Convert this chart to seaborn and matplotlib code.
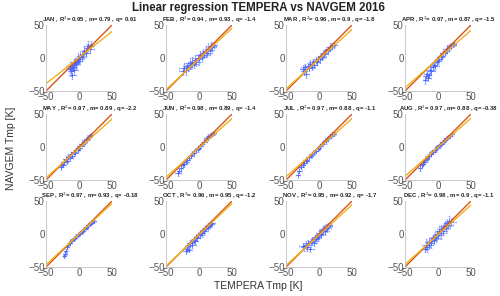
import matplotlib
matplotlib.use("Agg")
import matplotlib.pyplot as plt
import seaborn as sns
import pandas as pd
import numpy as np

# Monthly regression stats
months = ["JAN", "FEB", "MAR", "APR", "MAY", "JUN", "JUL", "AUG", "SEP", "OCT", "NOV", "DEC"]
r2 = [0.95, 0.94, 0.96, 0.97, 0.97, 0.98, 0.97, 0.97, 0.97, 0.96, 0.95, 0.98]
slope = [0.79, 0.93, 0.9, 0.87, 0.89, 0.89, 0.88, 0.88, 0.93, 0.95, 0.92, 0.9]
icpt = [0.61, -1.4, -1.8, -1.5, -2.2, -1.4, -1.1, -0.38, -0.18, -1.2, -1.7, -1.1]

# TEMPERA (x) vs NAVGEM (y) points with error bars, per month
x_jan = [-14, -13, -12, -11, -10, -9, -8, -7, -6, -5, -4, -3, -2, -1, 0, 2, 4, 6, 8, 10, 12, 14, 16, 18]
y_jan = [-16, -12, -20, -15, -25, -14, -10, -18, -8, -6, -9, -3, -5, 0, -2, 3, 1, 6, 10, 8, 15, 18, 14, 20]
ex_jan = [5, 6, 4, 7, 5, 6, 4, 5, 6, 7, 5, 4, 6, 5, 7, 4, 6, 5, 4, 6, 5, 7, 6, 5]
ey_jan = [7, 6, 8, 5, 7, 6, 8, 7, 6, 5, 7, 6, 5, 8, 6, 7, 5, 6, 7, 5, 6, 8, 7, 6]

x_feb = [-25, -22, -20, -18, -16, -14, -12, -10, -8, -6, -4, -2, 0, 2, 4, 6, 8, 10, 12, 14, 16, 18, 20, 22]
y_feb = [-20, -15, -18, -12, -14, -8, -11, -6, -9, -3, -6, 0, -2, 4, 1, 7, 5, 10, 8, 14, 12, 18, 16, 20]
ex_feb = [6, 8, 5, 7, 6, 8, 5, 6, 7, 5, 6, 8, 5, 7, 6, 5, 8, 6, 7, 5, 6, 7, 5, 6]
ey_feb = [5, 6, 7, 5, 6, 8, 6, 7, 6, 7, 6, 5, 8, 6, 7, 6, 5, 7, 6, 8, 6, 7, 6, 5]

x_mar = [-25, -23, -21, -19, -17, -15, -13, -11, -9, -7, -5, -3, -1, 1, 3, 5, 7, 9, 11, 13, 15, 17, 20, 23]
y_mar = [-16, -20, -14, -24, -12, -15, -9, -13, -6, -10, -4, -6, -1, -2, 3, 2, 6, 8, 10, 12, 14, 17, 18, 20]
ex_mar = [4, 5, 6, 4, 5, 6, 4, 5, 6, 4, 5, 4, 6, 5, 4, 5, 6, 4, 5, 4, 5, 6, 4, 5]
ey_mar = [5, 6, 5, 6, 4, 5, 6, 5, 4, 5, 6, 5, 4, 5, 4, 5, 6, 5, 4, 5, 4, 5, 4, 5]

x_apr = [-20, -18, -16, -14, -12, -10, -8, -6, -4, -2, 0, 2, 4, 6, 8, 10, 12, 14, 16, 18, 20, 22, 24, -15]
y_apr = [-34, -28, -24, -26, -18, -20, -14, -10, -12, -6, -4, -1, 2, 3, 7, 8, 11, 14, 15, 18, 19, 20, 21, -30]
ex_apr = [3, 4, 5, 4, 6, 5, 4, 5, 6, 4, 5, 4, 5, 4, 5, 4, 5, 6, 4, 5, 4, 5, 4, 4]
ey_apr = [5, 6, 5, 4, 5, 6, 5, 4, 5, 4, 5, 4, 5, 4, 4, 3, 4, 5, 4, 3, 4, 3, 3, 5]

x_may = [-28, -26, -24, -22, -20, -18, -16, -14, -12, -10, -8, -6, -4, -2, 0, 2, 4, 6, 8, 10, 12, 14, 16, 18]
y_may = [-30, -26, -28, -22, -18, -21, -15, -17, -11, -13, -8, -9, -5, -4, -1, 1, 4, 5, 8, 10, 12, 14, 16, 18]
ex_may = [4, 3, 4, 5, 4, 3, 4, 5, 4, 3, 4, 5, 4, 3, 4, 5, 4, 3, 4, 5, 4, 3, 4, 3]
ey_may = [5, 4, 3, 4, 5, 4, 3, 4, 3, 4, 3, 4, 3, 4, 3, 4, 3, 4, 3, 4, 3, 4, 3, 3]

x_jun = [-32, -30, -28, -25, -22, -20, -18, -15, -12, -10, -8, -5, -2, 0, 2, 5, 8, 10, 12, 14, 16, 18, 20, 23]
y_jun = [-40, -36, -32, -28, -26, -22, -20, -16, -14, -10, -9, -5, -3, -1, 2, 5, 8, 10, 13, 15, 17, 18, 20, 21]
ex_jun = [4, 3, 4, 3, 4, 5, 4, 3, 4, 3, 4, 3, 4, 3, 4, 3, 4, 3, 4, 3, 4, 3, 4, 3]
ey_jun = [4, 3, 4, 3, 4, 3, 4, 3, 3, 4, 3, 3, 4, 3, 3, 3, 4, 3, 3, 4, 3, 3, 3, 3]

x_jul = [-32, -30, -28, -25, -22, -20, -18, -15, -12, -10, -8, -5, -2, 0, 2, 5, 8, 10, 12, 14, 16, 18, 20, 23]
y_jul = [-42, -36, -30, -27, -24, -20, -21, -15, -14, -10, -8, -6, -3, -2, 1, 4, 8, 9, 12, 14, 16, 17, 19, 20]
ex_jul = [3, 4, 5, 4, 3, 4, 3, 4, 3, 4, 3, 4, 3, 3, 4, 3, 3, 4, 3, 4, 3, 3, 4, 3]
ey_jul = [5, 4, 3, 4, 3, 4, 3, 4, 3, 3, 4, 3, 3, 3, 3, 3, 3, 4, 3, 3, 3, 3, 3, 3]

x_aug = [-27, -25, -23, -21, -19, -17, -15, -13, -11, -9, -7, -5, -3, -1, 1, 3, 5, 7, 9, 11, 13, 15, 18, 21]
y_aug = [-32, -28, -25, -22, -20, -18, -14, -13, -10, -8, -7, -4, -3, 0, 1, 3, 5, 7, 9, 11, 13, 15, 17, 19]
ex_aug = [3, 3, 4, 3, 4, 3, 4, 3, 3, 4, 3, 4, 3, 3, 4, 3, 3, 4, 3, 3, 4, 3, 3, 3]
ey_aug = [4, 3, 4, 3, 3, 4, 3, 3, 4, 3, 3, 3, 4, 3, 3, 4, 3, 3, 4, 3, 3, 3, 3, 3]

x_sep = [-22, -21, -20, -18, -16, -14, -12, -10, -8, -6, -4, -2, 0, 2, 4, 6, 8, 10, 12, 14, 16, 18, 20, 22]
y_sep = [-34, -30, -26, -20, -16, -13, -11, -9, -7, -6, -3, -2, 0, 2, 3, 5, 7, 9, 11, 13, 15, 16, 18, 19]
ex_sep = [2, 3, 2, 3, 2, 3, 2, 3, 2, 3, 2, 3, 2, 3, 2, 3, 2, 3, 2, 3, 2, 3, 2, 3]
ey_sep = [3, 2, 3, 2, 3, 2, 3, 2, 3, 2, 3, 2, 3, 2, 3, 2, 3, 2, 3, 2, 3, 2, 3, 2]

x_oct = [-20, -18, -16, -15, -13, -11, -10, -8, -6, -4, -3, -1, 1, 3, 4, 6, 8, 9, 11, 13, 14, 16, 18, 20]
y_oct = [-26, -22, -18, -24, -14, -12, -16, -9, -10, -5, -6, -2, -1, 2, 1, 5, 4, 8, 9, 11, 12, 14, 15, 16]
ex_oct = [5, 4, 5, 4, 5, 4, 5, 4, 5, 4, 5, 4, 5, 4, 5, 4, 5, 4, 5, 4, 5, 4, 5, 4]
ey_oct = [5, 6, 5, 4, 5, 4, 5, 4, 5, 4, 5, 4, 5, 4, 5, 4, 5, 4, 5, 4, 5, 4, 4, 3]

x_nov = [-25, -22, -20, -18, -16, -14, -12, -10, -8, -6, -5, -3, -2, 0, 1, 3, 5, 6, 8, 9, 11, 12, 14, 16]
y_nov = [-18, -20, -16, -19, -14, -22, -12, -10, -13, -8, -6, -4, -5, -1, 2, 0, 4, 6, 8, 5, 10, 9, 12, 14]
ex_nov = [5, 6, 5, 6, 5, 6, 5, 6, 5, 6, 5, 6, 5, 6, 5, 6, 5, 6, 5, 6, 5, 6, 5, 4]
ey_nov = [5, 6, 5, 6, 5, 6, 5, 6, 5, 6, 5, 6, 5, 6, 5, 6, 5, 6, 5, 6, 5, 6, 5, 4]

x_dec = [-20, -18, -16, -14, -13, -11, -10, -8, -6, -5, -3, -1, 0, 2, 4, 5, 7, 9, 10, 12, 14, 15, 17, 19]
y_dec = [-22, -16, -20, -12, -17, -10, -14, -6, -9, -4, -6, 0, -2, 4, 1, 7, 5, 10, 12, 9, 16, 14, 20, 18]
ex_dec = [5, 6, 4, 5, 6, 5, 4, 6, 5, 4, 6, 5, 8, 6, 5, 7, 6, 5, 8, 6, 5, 7, 6, 8]
ey_dec = [6, 8, 7, 6, 5, 6, 7, 5, 6, 7, 6, 5, 6, 7, 8, 6, 7, 6, 5, 8, 7, 6, 8, 6]

xs = [x_jan, x_feb, x_mar, x_apr, x_may, x_jun, x_jul, x_aug, x_sep, x_oct, x_nov, x_dec]
ys = [y_jan, y_feb, y_mar, y_apr, y_may, y_jun, y_jul, y_aug, y_sep, y_oct, y_nov, y_dec]
exs = [ex_jan, ex_feb, ex_mar, ex_apr, ex_may, ex_jun, ex_jul, ex_aug, ex_sep, ex_oct, ex_nov, ex_dec]
eys = [ey_jan, ey_feb, ey_mar, ey_apr, ey_may, ey_jun, ey_jul, ey_aug, ey_sep, ey_oct, ey_nov, ey_dec]

sns.set_style("white")
plt.rcParams["font.family"] = ["Liberation Sans", "DejaVu Sans"]

fig = plt.figure(figsize=(5, 2.96), dpi=100)

col_left = [46, 166, 286, 405]
row_top = [25, 114, 201]
w, h = 66, 66
lim = np.array([-50, 50])

for i, mon in enumerate(months):
    r, c = divmod(i, 4)
    ax = fig.add_axes([col_left[c] / 500, 1 - (row_top[r] + h) / 296, w / 500, h / 296])
    ax.errorbar(xs[i], ys[i], xerr=exs[i], yerr=eys[i], fmt="none",
                ecolor="#4a66ff", alpha=0.5, elinewidth=0.7, capsize=0.8, capthick=0.6)
    df = pd.DataFrame({"x": xs[i], "y": ys[i]})
    sns.scatterplot(data=df, x="x", y="y", ax=ax, marker="+", color="#2040ff",
                    s=10, linewidth=0.7, alpha=0.7)
    sns.lineplot(x=lim, y=lim, ax=ax, color="#D95319", linewidth=1.0)
    sns.lineplot(x=lim, y=slope[i] * lim + icpt[i], ax=ax, color="#EDB120", linewidth=1.0)
    ax.set_xlim(-50, 50)
    ax.set_ylim(-50, 50)
    ax.set_xticks([-50, 0, 50])
    ax.set_yticks([-50, 0, 50])
    ax.set_xlabel("")
    ax.set_ylabel("")
    ax.tick_params(labelsize=7, colors="#555555", length=1.5, direction="in", pad=1)
    for s in ["top", "right"]:
        ax.spines[s].set_visible(False)
    for s in ["left", "bottom"]:
        ax.spines[s].set_color("#c0c0c0")
        ax.spines[s].set_linewidth(0.6)
    ax.set_title(f"{mon} , R$^2$= {r2[i]:g} , m= {slope[i]:g} , q= {icpt[i]:g}",
                 fontsize=4.3, fontweight="bold", pad=2.5, x=0.66)

fig.text(0.516, 0.974, "Linear regression TEMPERA vs NAVGEM 2016", ha="center", va="center",
         fontsize=8.3, fontweight="bold", color="#222222")
fig.text(0.517, 0.035, "TEMPERA Tmp [K]", ha="center", va="center", fontsize=7.5, color="#333333")
fig.text(0.022, 0.5, "NAVGEM Tmp [K]", ha="center", va="center", rotation=90,
         fontsize=7.5, color="#333333")

fig.savefig("out.png", dpi=100)
